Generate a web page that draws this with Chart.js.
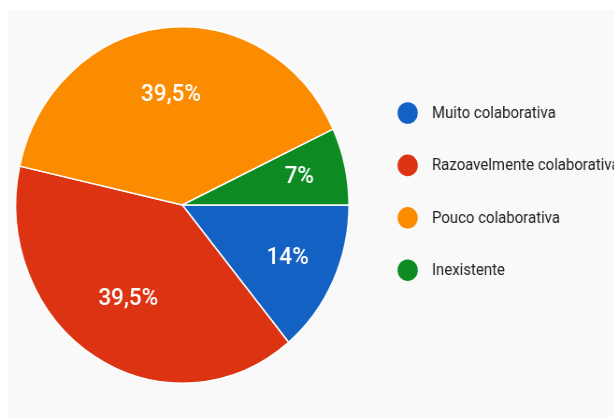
<!DOCTYPE html>
<html>
<head>
<meta charset="utf-8">
<script src="https://cdn.jsdelivr.net/npm/chart.js@4/dist/chart.umd.min.js"></script>
<style>
  html, body { margin: 0; padding: 0; background: #fff; overflow: hidden; }
  body { width: 614px; height: 417px; position: relative; }
  .panel { position: absolute; left: 8px; top: 10px; right: 0; bottom: 0; background: #f9f9f9; }
  /* the reference screenshot is squeezed horizontally, so the whole chart is too */
  .wrap { position: absolute; left: 0; top: 0; width: 657px; height: 417px;
          transform: scaleX(0.935); transform-origin: 0 0; }
</style>
</head>
<body>
<div class="panel"></div>
<div class="wrap"><canvas id="pieChart"></canvas></div>
<script>
  // answers and their share (%)
  const categories = ['Muito colaborativa', 'Razoavelmente colaborativa', 'Pouco colaborativa', 'Inexistente'];
  const shares = [14, 39.5, 39.5, 7];
  const sliceColors = ['#1461c4', '#dc3412', '#fb8c00', '#0d8a22'];

  // percent labels inside the slices
  const sliceLabels = {
    id: 'sliceLabels',
    afterDatasetsDraw(chart) {
      const ctx = chart.ctx;
      const arcs = chart.getDatasetMeta(0).data;
      ctx.save();
      ctx.fillStyle = '#fff';
      ctx.font = '500 24px Roboto';
      ctx.textAlign = 'center';
      ctx.textBaseline = 'middle';
      arcs.forEach((arc, i) => {
        const p = arc.getProps(['x', 'y', 'startAngle', 'endAngle', 'outerRadius'], true);
        const mid = (p.startAngle + p.endAngle) / 2;
        const share = shares[i] / 100;
        const r = p.outerRadius * (0.62 + 0.12 * Math.max(0, 1 - share / 0.4));
        const text = String(shares[i]).replace('.', ',') + '%';
        ctx.fillText(text, p.x + Math.cos(mid) * r, p.y + Math.sin(mid) * r);
      });
      ctx.restore();
    }
  };

  // legend drawn like the Google Forms one: round dots, wide gap before the text
  const dotLegend = {
    id: 'dotLegend',
    afterDraw(chart) {
      const ctx = chart.ctx;
      ctx.save();
      ctx.font = '16px Roboto';
      ctx.textBaseline = 'middle';
      categories.forEach((name, i) => {
        const y = 113 + i * 52.4;
        ctx.fillStyle = sliceColors[i];
        ctx.beginPath();
        ctx.arc(436, y, 10.8, 0, Math.PI * 2);
        ctx.fill();
        ctx.fillStyle = '#222';
        ctx.fillText(name, 462, y + 1);
      });
      ctx.restore();
    }
  };

  const ctx = document.getElementById('pieChart').getContext('2d');
  const pieChart = new Chart(ctx, {
    type: 'pie',
    data: {
      labels: categories,
      datasets: [{
        data: shares,
        backgroundColor: sliceColors,
        borderColor: '#fff',
        borderWidth: 1.5,
        hoverOffset: 0
      }]
    },
    options: {
      responsive: true,
      maintainAspectRatio: false,
      animation: false,
      rotation: 90,
      layout: {
        padding: { left: 16, top: 26, bottom: 33, right: 283 }
      },
      plugins: {
        legend: { display: false },
        tooltip: { enabled: false }
      }
    },
    plugins: [sliceLabels, dotLegend]
  });
</script>
</body>
</html>
